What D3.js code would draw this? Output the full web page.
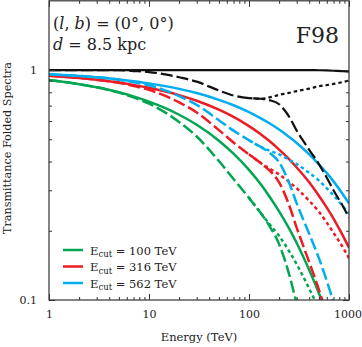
<!DOCTYPE html>
<html>
<head>
<meta charset="utf-8">
<script src="https://cdn.jsdelivr.net/npm/d3@7"></script>
<style>
  body { margin: 0; background: #fff; }
  svg { display: block; }
  .axis line { stroke: #333; stroke-width: 1; }
</style>
</head>
<body>
<svg width="362" height="347"></svg>
<script>
const width = 362, height = 347;
const margin = {top: 0.8, right: 13, bottom: 47, left: 49};
const serif = "'DejaVu Serif', serif";

// energies (TeV) read along the x axis
const energy = [1, 2, 3, 5, 7, 10, 15, 20, 30, 50, 70, 100, 130, 160, 200, 250, 300, 400, 500, 600, 700, 850, 1000];
// energies where the dotted branch splits off
const energyHigh = [100, 130, 160, 200, 250, 300, 400, 500, 600, 700, 850, 1000];

// black: transmittance curves
const blackSolid = [1, 1, 1, 1, 1, 1, 1, 1, 1, 1, 1, 1, 1, 1, 1, 1, 1, 0.999, 0.998, 0.996, 0.993, 0.989, 0.985];
const blackDashed = [1, 1, 1, 0.998, 0.99, 0.98, 0.955, 0.93, 0.89, 0.815, 0.775, 0.755, 0.75, 0.74, 0.71, 0.63, 0.545, 0.45, 0.39, 0.34, 0.30, 0.26, 0.228];
const blackDotted = [0.755, 0.75, 0.76, 0.78, 0.795, 0.81, 0.83, 0.85, 0.86, 0.87, 0.885, 0.90];

// Ecut = 100 TeV
const greenSolid = [0.905, 0.868, 0.841, 0.800, 0.768, 0.729, 0.679, 0.639, 0.578, 0.493, 0.433, 0.368, 0.320, 0.282, 0.243, 0.206, 0.177, 0.135, 0.107, 0.0863, 0.071, 0.0542, 0.0423];
const greenDashed = [0.905, 0.868, 0.841, 0.798, 0.760, 0.714, 0.648, 0.594, 0.514, 0.402, 0.336, 0.278, 0.240, 0.210, 0.175, 0.131, 0.0965, 0.0608, 0.042, 0.029, 0.021, 0.014, 0.0096];
const greenDotted = [0.278, 0.240, 0.214, 0.190, 0.164, 0.143, 0.112, 0.091, 0.074, 0.062, 0.048, 0.038];

// Ecut = 316 TeV
const redSolid = [0.945, 0.924, 0.907, 0.882, 0.862, 0.837, 0.804, 0.778, 0.735, 0.672, 0.625, 0.570, 0.527, 0.491, 0.451, 0.411, 0.377, 0.325, 0.284, 0.252, 0.226, 0.194, 0.169];
const redDashed = [0.945, 0.924, 0.907, 0.880, 0.853, 0.820, 0.768, 0.723, 0.654, 0.548, 0.484, 0.430, 0.395, 0.366, 0.325, 0.261, 0.206, 0.146, 0.111, 0.0857, 0.0678, 0.0504, 0.0385];
const redDotted = [0.430, 0.395, 0.373, 0.352, 0.327, 0.306, 0.270, 0.242, 0.217, 0.196, 0.172, 0.152];

// Ecut = 562 TeV
const blueSolid = [0.959, 0.942, 0.930, 0.910, 0.894, 0.875, 0.849, 0.828, 0.794, 0.742, 0.703, 0.656, 0.618, 0.587, 0.551, 0.513, 0.482, 0.430, 0.389, 0.356, 0.328, 0.292, 0.263];
const blueDashed = [0.959, 0.942, 0.930, 0.908, 0.885, 0.858, 0.811, 0.770, 0.706, 0.605, 0.545, 0.495, 0.464, 0.437, 0.397, 0.326, 0.263, 0.194, 0.152, 0.121, 0.098, 0.076, 0.060];
const blueDotted = [0.495, 0.464, 0.446, 0.430, 0.408, 0.390, 0.357, 0.331, 0.306, 0.285, 0.259, 0.237];

const legendLabels = ["100", "316", "562"];
const xMajor = [1, 10, 100, 1000];
const yMajor = [0.1, 1];

const green = "#00a651", red = "#ed1c24", blue = "#00aeef", black = "#111";

const svg = d3.select("svg");

const x = d3.scaleLog().domain([1, 1000]).range([margin.left, width - margin.right]);
const y = d3.scaleLog().domain([0.1, 2]).range([height - margin.bottom, margin.top]);

const xMinor = [];
for (let d = 1; d < 1000; d *= 10) for (let k = 2; k <= 9; k++) xMinor.push(d * k);
const yMinor = [];
for (let k = 2; k <= 9; k++) yMinor.push(k / 10);

svg.append("clipPath").attr("id", "plot-clip")
    .append("rect")
    .attr("x", x.range()[0]).attr("y", y.range()[1])
    .attr("width", x.range()[1] - x.range()[0])
    .attr("height", y.range()[0] - y.range()[1]);

const line = d3.line()
    .x(d => x(d[0]))
    .y(d => y(d[1]))
    .curve(d3.curveMonotoneX);

const series = [
    {xs: energy, ys: greenSolid, color: green, dash: null, w: 2.5},
    {xs: energy, ys: greenDashed, color: green, dash: "12,4", w: 2.5},
    {xs: energyHigh, ys: greenDotted, color: green, dash: "3.5,3", w: 2.5},
    {xs: energy, ys: redSolid, color: red, dash: null, w: 2.5},
    {xs: energy, ys: redDashed, color: red, dash: "12,4", w: 2.5},
    {xs: energyHigh, ys: redDotted, color: red, dash: "3.5,3", w: 2.5},
    {xs: energy, ys: blueSolid, color: blue, dash: null, w: 2.5},
    {xs: energy, ys: blueDashed, color: blue, dash: "12,4", w: 2.5},
    {xs: energyHigh, ys: blueDotted, color: blue, dash: "3.5,3", w: 2.5},
    {xs: energy, ys: blackSolid, color: black, dash: null, w: 2.2},
    {xs: energy, ys: blackDashed, color: black, dash: "12,4", w: 2.2},
    {xs: energyHigh, ys: blackDotted, color: black, dash: "3.5,3", w: 2.2}
];

svg.append("g")
    .attr("clip-path", "url(#plot-clip)")
    .selectAll("path")
    .data(series)
    .join("path")
    .attr("fill", "none")
    .attr("stroke", d => d.color)
    .attr("stroke-width", d => d.w)
    .attr("stroke-dasharray", d => d.dash)
    .attr("d", d => line(d.xs.map((e, i) => [e, d.ys[i]])));

// axes, ticks pointing inward on all four sides
const yBottom = y.range()[0], yTop = y.range()[1];
const xLeft = x.range()[0], xRight = x.range()[1];

function addAxis(axis, tf, labels) {
    const g = svg.append("g").attr("class", "axis").attr("transform", tf).call(axis);
    g.attr("font-family", serif).attr("font-size", 11);
    if (!labels) g.selectAll("text").remove();
    g.selectAll("text").attr("fill", "#222");
    g.select(".domain").remove();
    return g;
}

const xAxisG = addAxis(d3.axisBottom(x).tickValues(xMajor).tickSize(-6).tickPadding(10).tickFormat(d3.format("d")), `translate(0,${yBottom})`, true);
xAxisG.selectAll("text").filter(d => d === 1000).attr("dx", -1.5);
addAxis(d3.axisBottom(x).tickValues(xMinor).tickSize(-3), `translate(0,${yBottom})`, false);
addAxis(d3.axisTop(x).tickValues(xMajor).tickSize(-6), `translate(0,${yTop})`, false);
addAxis(d3.axisTop(x).tickValues(xMinor).tickSize(-3), `translate(0,${yTop})`, false);
addAxis(d3.axisLeft(y).tickValues(yMajor).tickSize(-6).tickPadding(12).tickFormat(d => d === 1 ? "1" : "0.1"), `translate(${xLeft},0)`, true);
addAxis(d3.axisLeft(y).tickValues(yMinor).tickSize(-3), `translate(${xLeft},0)`, false);
addAxis(d3.axisRight(y).tickValues(yMajor).tickSize(-6), `translate(${xRight},0)`, false);
addAxis(d3.axisRight(y).tickValues(yMinor).tickSize(-3), `translate(${xRight},0)`, false);

svg.append("rect")
    .attr("x", xLeft).attr("y", yTop)
    .attr("width", xRight - xLeft).attr("height", yBottom - yTop)
    .attr("fill", "none").attr("stroke", "#333").attr("stroke-width", 1.2);

// axis titles
svg.append("text")
    .attr("x", (xLeft + xRight) / 2).attr("y", 341)
    .attr("text-anchor", "middle")
    .attr("font-family", serif)
    .attr("font-size", 11.5).attr("fill", "#222")
    .text("Energy (TeV)");

svg.append("text")
    .attr("transform", `translate(11,148) rotate(-90)`)
    .attr("text-anchor", "middle")
    .attr("font-family", serif)
    .attr("font-size", 11).attr("fill", "#222")
    .attr("textLength", 172).attr("lengthAdjust", "spacingAndGlyphs")
    .text("Transmittance Folded Spectra");

// annotation
const ann1 = svg.append("text").attr("x", 53).attr("y", 29)
    .attr("font-family", serif).attr("font-size", 16).attr("fill", "#222");
ann1.append("tspan").text("(");
ann1.append("tspan").attr("font-style", "italic").text("l");
ann1.append("tspan").text(", ");
ann1.append("tspan").attr("font-style", "italic").text("b");
ann1.append("tspan").text(") = (0°, 0°)");

const ann2 = svg.append("text").attr("x", 53).attr("y", 50)
    .attr("font-family", serif).attr("font-size", 16).attr("fill", "#222");
ann2.append("tspan").attr("font-style", "italic").text("d");
ann2.append("tspan").text(" = 8.5 kpc");

svg.append("text")
    .attr("x", 339).attr("y", 43)
    .attr("text-anchor", "end")
    .attr("font-family", serif)
    .attr("font-size", 22).attr("fill", "#222")
    .text("F98");

// legend
const legend = svg.append("g")
    .selectAll("g")
    .data(legendLabels)
    .join("g")
    .attr("transform", (d, i) => `translate(63,${250 + i * 16.5})`);

legend.append("line")
    .attr("x1", 0).attr("x2", 20)
    .attr("stroke", (d, i) => [green, red, blue][i])
    .attr("stroke-width", 2.5);

const lt = legend.append("text")
    .attr("x", 27).attr("y", 4.5)
    .attr("font-family", serif)
    .attr("font-size", 11.5).attr("fill", "#222");
lt.append("tspan").text("E");
lt.append("tspan").attr("font-size", 8.5).attr("dy", 2.5).text("cut");
lt.append("tspan").attr("dy", -2.5).text(d => ` = ${d} TeV`);
</script>
</body>
</html>
